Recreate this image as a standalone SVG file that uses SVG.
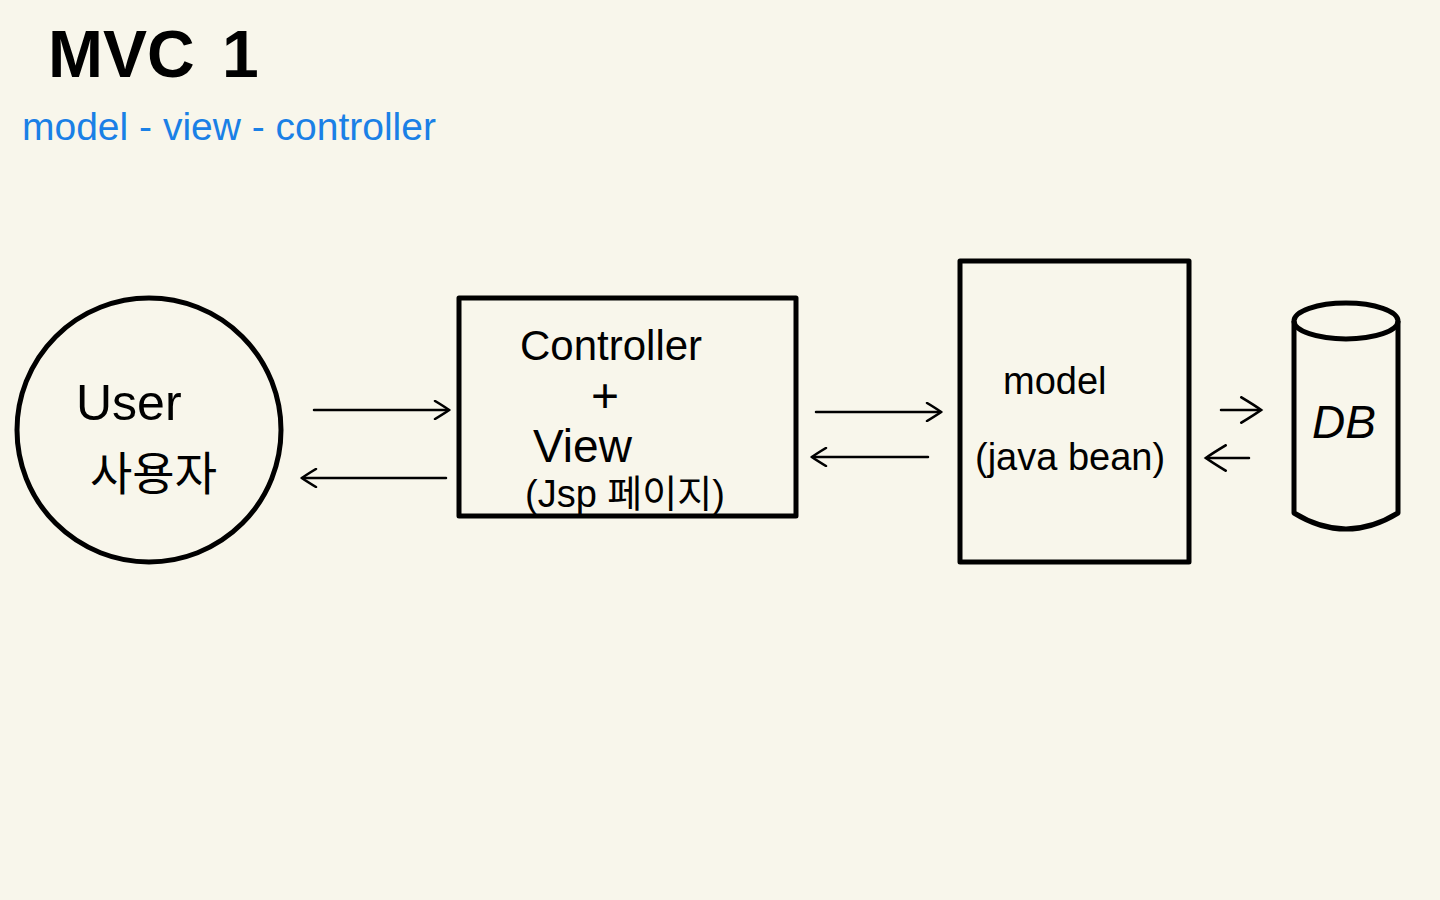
<svg xmlns="http://www.w3.org/2000/svg" width="1440" height="900" viewBox="0 0 1440 900">
<defs>
<style>
.bg{fill:#f8f6eb}
.shape{fill:none;stroke:#000;stroke-width:5;stroke-linejoin:round}
.line{fill:none;stroke:#000;stroke-width:2.5;stroke-linecap:round}
.t{font-family:"Liberation Sans","Noto Sans CJK KR",sans-serif;fill:#000}
.blue{font-family:"Liberation Sans",sans-serif;fill:#1a80e6}
</style>
<marker id="ah" viewBox="0 0 20 20" refX="18" refY="10" markerWidth="20" markerHeight="20" markerUnits="userSpaceOnUse" orient="auto">
<path d="M4,1 Q14,7 18,10 Q14,13 4,19" fill="none" stroke="#000" stroke-width="2.5" stroke-linecap="round"/>
</marker>
<marker id="ahs" viewBox="0 0 20 20" refX="18" refY="10" markerWidth="28" markerHeight="28" markerUnits="userSpaceOnUse" orient="auto">
<path d="M4,1 Q14,7 18,10 Q14,13 4,19" fill="none" stroke="#000" stroke-width="2" stroke-linecap="round"/>
</marker>
</defs>
<rect class="bg" x="0" y="0" width="1440" height="900"/>
<g id="title">
<text class="t" x="48" y="77" font-size="66" font-weight="bold">MVC</text>
<text class="t" x="222" y="77" font-size="66" font-weight="bold">1</text>
<text class="blue" x="22" y="140" font-size="39">model - view - controller</text>
</g>
<g id="user">
<circle class="shape" cx="149" cy="430" r="132"/>
<text class="t" x="76" y="420" font-size="50">User</text>
<text class="t" x="90" y="490" font-size="46">사용자</text>
</g>
<g id="controller-view">
<rect class="shape" x="459" y="298" width="337" height="218"/>
<text class="t" x="520" y="360" font-size="42">Controller</text>
<text class="t" x="605" y="412" font-size="48" text-anchor="middle">+</text>
<text class="t" x="533" y="462" font-size="46">View</text>
<text class="t" x="525" y="507" font-size="38">(Jsp 페이지)</text>
</g>
<g id="model">
<rect class="shape" x="960" y="261" width="229" height="301"/>
<text class="t" x="1003" y="394" font-size="38">model</text>
<text class="t" x="975" y="470" font-size="38">(java bean)</text>
</g>
<g id="db">
<path class="shape" stroke-width="3" d="M1294,321 L1294,513 Q1346,545 1398,513 L1398,321"/>
<ellipse class="shape" stroke-width="3" cx="1346" cy="321" rx="52" ry="18"/>
<text class="t" x="1312" y="438" font-size="46" font-style="italic">DB</text>
</g>
<g id="connectors">
<line class="line" x1="314" y1="410" x2="449" y2="410" marker-end="url(#ah)"/>
<line class="line" x1="446" y1="478" x2="302" y2="478" marker-end="url(#ah)"/>
<line class="line" x1="816" y1="412" x2="941" y2="412" marker-end="url(#ah)"/>
<line class="line" x1="928" y1="457" x2="812" y2="457" marker-end="url(#ah)"/>
<line class="line" x1="1221" y1="410" x2="1261" y2="410" marker-end="url(#ahs)"/>
<line class="line" x1="1249" y1="458" x2="1206" y2="458" marker-end="url(#ahs)"/>
</g>
</svg>
